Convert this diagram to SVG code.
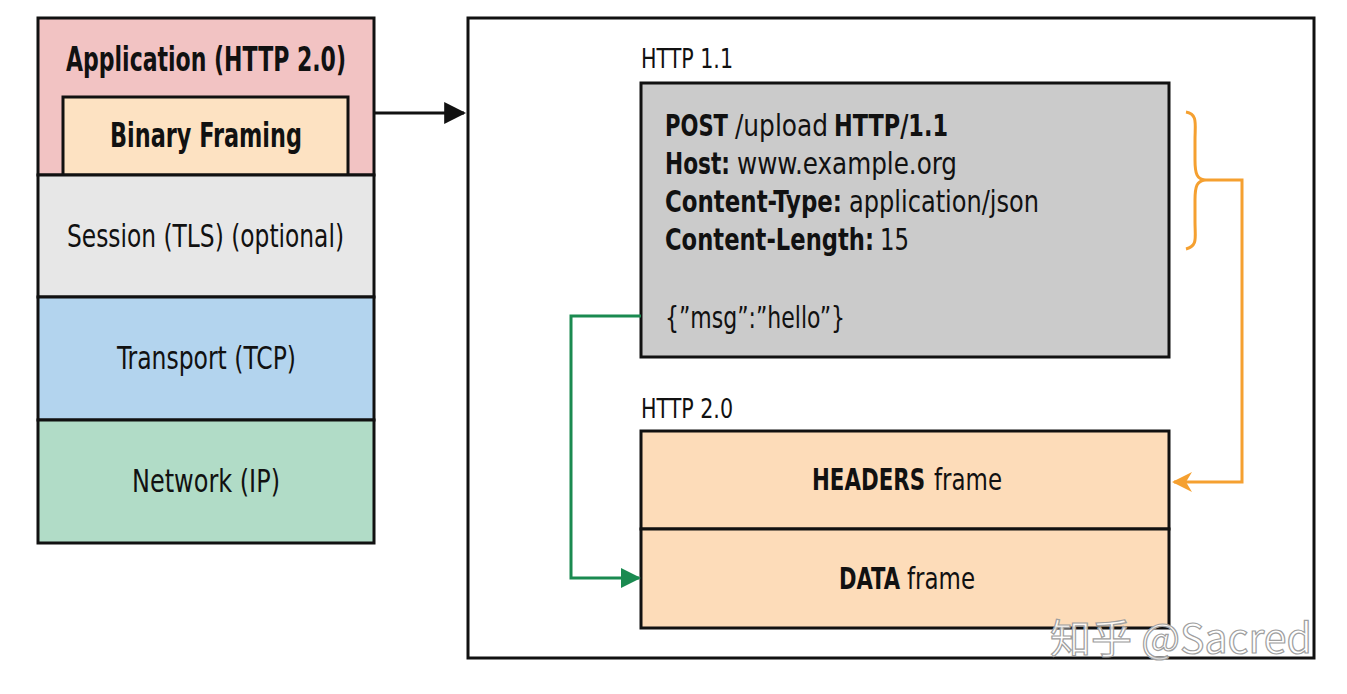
<svg xmlns="http://www.w3.org/2000/svg" width="1347" height="694" viewBox="0 0 1347 694">
<style>
.t{font-family:"Liberation Sans Narrow","DejaVu Sans Condensed","Liberation Sans",sans-serif;fill:#111}
.b{font-weight:bold}
.box{stroke:#111;stroke-width:3}
.wm{font-family:"Noto Sans CJK SC","Noto Sans",sans-serif;font-size:40px;fill:#ffffff;fill-opacity:0.85;stroke:#a0a0a0;stroke-width:1.2}
</style>
<defs>
<marker id="ab" viewBox="0 0 10 10" refX="9" refY="5" markerWidth="22" markerHeight="22" markerUnits="userSpaceOnUse" orient="auto"><path d="M0,0 L10,5 L0,10 z" fill="#111"/></marker>
<marker id="ao" viewBox="0 0 10 10" refX="9" refY="5" markerWidth="20" markerHeight="20" markerUnits="userSpaceOnUse" orient="auto"><path d="M0,0 L10,5 L0,10 L3,5 z" fill="#f5a030"/></marker>
<marker id="ag" viewBox="0 0 10 10" refX="9" refY="5" markerWidth="20" markerHeight="20" markerUnits="userSpaceOnUse" orient="auto"><path d="M0,0 L10,5 L0,10 z" fill="#1a8a50"/></marker>
</defs>
<rect width="1347" height="694" fill="#ffffff"/>

<g id="application">
<rect class="box" x="38" y="18" width="336" height="157" fill="#f2c3c3"/>
<text class="t b" x="66" y="71" font-size="34" textLength="280" lengthAdjust="spacingAndGlyphs">Application (HTTP 2.0)</text>
</g>
<g id="binary-framing">
<rect class="box" x="63" y="97" width="285" height="78" fill="#fde2c2"/>
<text class="t b" x="110" y="147" font-size="34" textLength="192" lengthAdjust="spacingAndGlyphs">Binary Framing</text>
</g>
<g id="session">
<rect class="box" x="38" y="175" width="336" height="122" fill="#e7e7e7"/>
<text class="t" x="67" y="247" font-size="32" textLength="277" lengthAdjust="spacingAndGlyphs">Session (TLS) (optional)</text>
</g>
<g id="transport">
<rect class="box" x="38" y="297" width="336" height="123" fill="#b3d4ee"/>
<text class="t" x="117" y="369" font-size="32" textLength="179" lengthAdjust="spacingAndGlyphs">Transport (TCP)</text>
</g>
<g id="network">
<rect class="box" x="38" y="420" width="336" height="123" fill="#b1dcc7"/>
<text class="t" x="132" y="492" font-size="32" textLength="148" lengthAdjust="spacingAndGlyphs">Network (IP)</text>
</g>

<g id="frame">
<rect class="box" x="468" y="18" width="846" height="640" fill="#ffffff"/>
</g>

<g id="http11">
<text class="t" x="641" y="68" font-size="27" textLength="92" lengthAdjust="spacingAndGlyphs">HTTP 1.1</text>
<rect class="box" x="641" y="83" width="528" height="274" fill="#cbcbcb"/>
<text class="t b" x="665" y="136" font-size="31" textLength="63" lengthAdjust="spacingAndGlyphs">POST</text>
<text class="t" x="735" y="136" font-size="31" textLength="93" lengthAdjust="spacingAndGlyphs">/upload</text>
<text class="t b" x="834" y="136" font-size="31" textLength="114" lengthAdjust="spacingAndGlyphs">HTTP/1.1</text>
<text class="t b" x="665" y="174" font-size="31" textLength="65" lengthAdjust="spacingAndGlyphs">Host:</text>
<text class="t" x="737" y="174" font-size="31" textLength="220" lengthAdjust="spacingAndGlyphs">www.example.org</text>
<text class="t b" x="665" y="212" font-size="31" textLength="177" lengthAdjust="spacingAndGlyphs">Content-Type:</text>
<text class="t" x="849" y="212" font-size="31" textLength="190" lengthAdjust="spacingAndGlyphs">application/json</text>
<text class="t b" x="665" y="250" font-size="31" textLength="209" lengthAdjust="spacingAndGlyphs">Content-Length:</text>
<text class="t" x="880" y="250" font-size="31" textLength="29" lengthAdjust="spacingAndGlyphs">15</text>
<text class="t" x="665" y="328" font-size="31" textLength="180" lengthAdjust="spacingAndGlyphs">{”msg”:”hello”}</text>
</g>

<g id="http20">
<text class="t" x="641" y="418" font-size="27" textLength="92" lengthAdjust="spacingAndGlyphs">HTTP 2.0</text>
</g>
<g id="headers-frame">
<rect class="box" x="641" y="431" width="528" height="98" fill="#fddcb9"/>
<text class="t b" x="812" y="490" font-size="31" textLength="113" lengthAdjust="spacingAndGlyphs">HEADERS</text>
<text class="t" x="934" y="490" font-size="31" textLength="68" lengthAdjust="spacingAndGlyphs">frame</text>
</g>
<g id="data-frame">
<rect class="box" x="641" y="529" width="528" height="99" fill="#fddcb9"/>
<text class="t b" x="839" y="589" font-size="31" textLength="61" lengthAdjust="spacingAndGlyphs">DATA</text>
<text class="t" x="907" y="589" font-size="31" textLength="68" lengthAdjust="spacingAndGlyphs">frame</text>
</g>

<g id="connectors" fill="none">
<line x1="374" y1="113" x2="464" y2="113" stroke="#111" stroke-width="3" marker-end="url(#ab)"/>
<path d="M1186,112 C1198,114 1195,124 1195,140 L1195,160 C1195,174 1197,179 1205,180 C1197,181 1195,186 1195,200 L1195,222 C1195,238 1198,246 1186,249" stroke="#f5a030" stroke-width="3"/>
<path d="M1205,180 L1242,180 L1242,482 L1174,482" stroke="#f5a030" stroke-width="3" marker-end="url(#ao)"/>
<path d="M641,316 L571,316 L571,578 L639,578" stroke="#1a8a50" stroke-width="3" marker-end="url(#ag)"/>
</g>

<text class="wm" x="1050" y="653" textLength="262" lengthAdjust="spacingAndGlyphs">知乎 @Sacred</text>
</svg>
